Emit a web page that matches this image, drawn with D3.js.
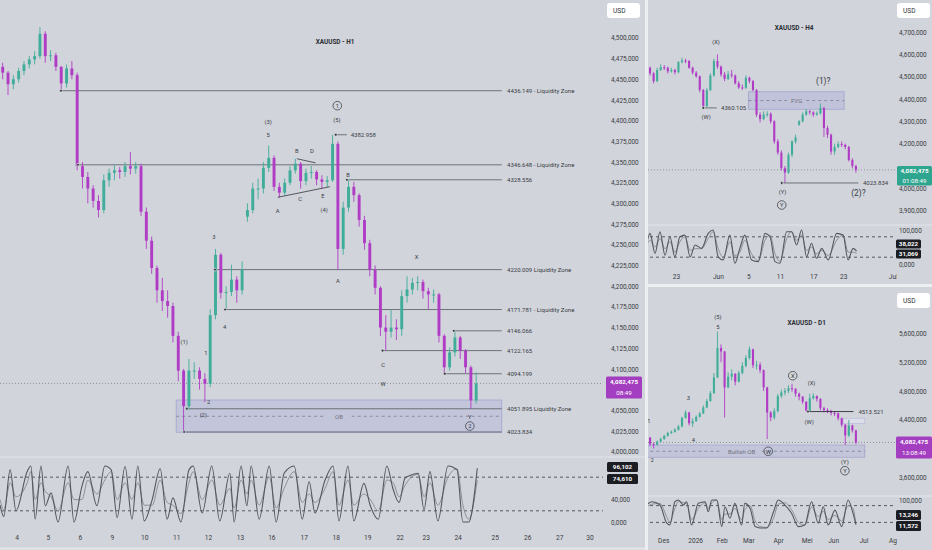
<!DOCTYPE html>
<html>
<head>
<meta charset="utf-8">
<script src="https://cdn.jsdelivr.net/npm/d3@7/dist/d3.min.js"></script>
<style>
  html, body { margin: 0; padding: 0; background: #d1d4da; }
  svg { display: block; }
  text { font-family: Roboto, "Liberation Sans", sans-serif; }
</style>
</head>
<body>
<svg id="chart" width="932" height="550"></svg>
<script>
// ---------- XAUUSD H1 (4h bars as drawn) ----------
var h1FirstOpen = 4465;
var h1Close = [4458,4444,4450,4460,4468,4474,4478,4505,4478,4479,4465,4445,4463,4455,4345,4332,4318,4303,4292,4328,
  4337,4340,4338,4345,4342,4345,4290,4255,4222,4195,4182,4176,4140,4098,4055,4098,4098,4088,4082,4165,
  4238,4192,4193,4208,4195,4220,4292,4318,4318,4343,4355,4320,4313,4325,4340,4348,4327,4337,4338,4329,
  4326,4328,4372,4245,4295,4320,4310,4280,4252,4220,4198,4150,4145,4150,4148,4188,4196,4204,4205,4194,
  4190,4190,4140,4102,4120,4138,4122,4102,4062,4082.475];
var h1High = [4470,4460,4455,4464,4472,4478,4484,4513,4508,4485,4482,4466,4468,4472,4458,4350,4338,4322,4310,4335,
  4342,4346,4344,4350,4362,4350,4348,4295,4260,4225,4210,4195,4180,4145,4100,4112,4108,4102,4095,4172,
  4245,4240,4200,4226,4212,4230,4300,4325,4330,4350,4370,4358,4325,4330,4345,4354,4350,4342,4345,4340,
  4334,4333,4382.958,4375,4302,4328.556,4326,4312,4285,4256,4225,4200,4165,4172,4160,4195,4212,4210,4212,4208,
  4198,4196,4192,4142,4126,4146.066,4140,4124,4104,4096];
var h1Low = [4450,4431,4438,4446,4455,4463,4468,4475,4470,4472,4460,4436.149,4440,4450,4340,4318,4300,4295,4283,4288,
  4320,4328,4330,4332,4335,4336,4285,4245,4215,4180,4170,4162,4132,4085,4023.834,4050,4088,4075,4060,4078,
  4160,4185,4172,4188,4180,4190,4278,4288,4305,4312,4338,4315,4307,4310,4322,4336,4318,4322,4330,4322,
  4318,4320,4326,4220,4238,4290,4302,4272,4244,4212,4190,4140,4122.165,4138,4135,4140,4180,4190,4195,4185,
  4172,4180,4132,4094.199,4098,4115,4112,4095,4052,4058];
var h1GapIdx = [46];
var h1GapOpen = [4284];
var h1Days = ['4','5','6','9','10','11','12','13','16','17','18','19','22','23','24','25','26','27','30'];
var h1DayAt = [2.6,8.5,14.5,20.5,26.6,32.6,38.6,44.6,50.5,56.6,62.6,68.5,74.6,79.5,85.5,92.5,98.6,104.6,110.3];
var h1PriceTicks = [4000,4025,4050,4100,4125,4150,4175,4200,4225,4250,4275,4300,4325,4350,4375,4400,4425,4450,4475,4500];
var h1OscT = [-0.5,0.2,1.4,2.5,4.6,5.3,6.1,7.2,8.0,9.1,10.4,12.3,13.4,14.9,16.0,17.7,19.2,20.4,21.5,23.0,
  24.3,25.4,26.6,28.1,29.6,30.9,32.0,33.5,35.0,35.8,37.5,39.3,40.8,42.7,43.5,44.8,45.9,46.7,48.2,50.1,
  51.4,52.9,54.8,56.3,57.6,58.7,60.6,62.1,63.2,64.9,66.0,67.9,69.1,70.6,72.2,73.4,74.5,75.6,76.8,78.1,
  79.2,80.3,81.8,83.7,85.4,86.5,87.6,89.2];
var h1OscK = [30,10,93,20,90,100,5,100,29,52,0,100,0,64,90,29,100,93,8,99,5,100,2,40,95,5,43,0,93,100,
  16,100,2,87,0,100,29,100,5,100,0,87,100,5,72,16,75,100,2,100,2,69,29,5,100,58,35,78,84,87,
  22,90,2,100,93,0,0,96.102];
var h1OscD = [40,22,70,45,70,90,40,70,55,45,20,70,40,40,75,50,75,90,40,70,40,70,30,30,75,35,30,15,70,90,
  40,75,30,60,25,75,50,75,30,80,25,60,90,35,50,35,60,90,30,75,30,50,40,20,75,70,45,65,80,85,
  45,70,30,80,95,30,5,74.61];

// ---------- XAUUSD H4 ----------
var h4FirstOpen = 4555;
var h4Close = [4540,4515,4480,4530,4542,4540,4524,4530,4520,4565,4572,4570,4540,4518,4502,4440,4368,4440,4505,4570,
  4545,4510,4490,4510,4505,4470,4452,4450,4495,4480,4440,4330,4310,4330,4333,4300,4210,4160,4090,4070,
  4150,4210,4228,4300,4330,4345,4340,4330,4336,4360,4270,4240,4165,4185,4198,4195,4185,4127,4100,4082.475];
var h4High = [4560,4545,4520,4540,4555,4552,4545,4540,4535,4570,4585,4580,4575,4545,4525,4505,4445,4450,4515,4580,
  4600,4550,4520,4525,4530,4510,4480,4465,4505,4500,4485,4445,4340,4345,4345,4340,4305,4220,4170,4100,
  4160,4215,4240,4305,4340,4355,4350,4345,4345,4380,4365,4280,4245,4200,4210,4210,4200,4190,4135,4105];
var h4Low = [4525,4505,4470,4475,4525,4530,4515,4518,4510,4515,4560,4560,4535,4510,4495,4430,4360.105,4365,4435,4500,
  4535,4500,4480,4485,4495,4465,4445,4440,4445,4470,4435,4320,4295,4305,4320,4290,4200,4150,4080,4023.834,
  4065,4140,4200,4280,4295,4325,4330,4320,4325,4330,4230,4225,4150,4150,4180,4185,4175,4120,4090,4070];
var h4GapIdx = [43];
var h4GapOpen = [4285];
var h4Dates = ['23','Jun','5','11','17','23','Jul'];
var h4DateAt = [8.3,20.1,28.7,37.6,47.0,55.4,69.4];
var h4PriceTicks = [3900,4000,4200,4300,4400,4500,4600,4700];
var h4OscT = [-0.4,1.0,2.4,3.8,5.2,6.6,8.0,9.4,10.8,12.3,13.7,15.5,17.4,18.8,20.2,21.6,23.5,24.9,26.3,27.7,
  29.6,31.5,33.4,34.8,36.2,37.6,39.5,40.9,42.3,43.7,45.1,46.5,47.9,49.4,51.2,53.6,55.4,56.8,58.2,59.2];
var h4OscK = [31,90,31,95,26,80,21,80,85,21,56,46,90,100,21,12,85,2,46,85,
  12,7,90,80,7,2,95,95,56,100,21,61,17,46,12,90,85,12,46,38.022];
var h4OscD = [40,70,50,75,45,65,35,65,80,40,45,45,75,95,45,20,65,25,35,70,
  30,10,70,85,30,8,75,95,70,85,40,50,30,40,25,70,85,35,35,31.069];

// ---------- XAUUSD D1 ----------
var d1FirstOpen = 4200;
var d1Close = [4150,4060,4050,4095,4130,4175,4215,4232,4260,4305,4425,4500,4350,4380,4440,4485,4570,4660,4770,4990,
  5400,5350,4850,5000,5040,4930,5050,5150,5260,5380,5160,5165,5090,4850,4500,4430,4520,4730,4780,4800,
  4840,4830,4760,4720,4650,4525,4700,4730,4690,4560,4535,4520,4495,4490,4420,4330,4180,4320,4250,4082.475];
var d1High = [4230,4160,4080,4110,4150,4190,4230,4250,4280,4330,4440,4530,4510,4420,4460,4510,4600,4690,4800,5050,
  5626,5450,5360,5060,5100,5050,5080,5200,5300,5420,5390,5220,5200,5100,4860,4520,4560,4760,4820,4840,
  4880,4900,4840,4780,4730,4660,4760,4768,4740,4700,4580,4560,4540,4520,4500,4430,4340,4396,4330,4260];
var d1Low = [4120,4030,4000,4040,4085,4120,4165,4200,4220,4250,4295,4415,4320,4300,4370,4430,4480,4560,4650,4760,
  4980,5200,4430,4840,4950,4880,4920,5030,5130,5240,5120,5100,5050,4800,4130,4380,4400,4500,4700,4740,
  4770,4790,4720,4670,4620,4513.521,4520,4680,4650,4530,4500,4490,4460,4450,4390,4300,4047,4160,4220,4060];
var d1Dates = ['Des','2026','Feb','Mar','Apr','Mei','Jun','Jul','Agu'];
var d1DateAt = [4.7,13.7,21.2,28.7,37.1,45.1,52.6,61.1,69.8];
var d1PriceTicks = [3600,4400,4800,5200,5600];
var d1OscT = [-0.4,1.5,3.8,5.7,6.6,8.0,9.0,10.4,11.3,12.7,14.6,16.5,17.4,18.4,19.8,21.2,22.1,23.5,24.9,26.8,
  27.7,29.2,30.6,32.0,33.9,35.8,37.1,39.0,40.9,42.8,44.6,46.5,48.4,49.8,51.2,53.1,55.0,56.8,58.2,59.0];
var d1OscK = [76,94,82,17,11,94,100,82,94,11,88,94,58,100,100,5,76,35,88,11,
  88,70,5,0,0,58,100,82,52,5,11,94,17,76,11,64,5,100,52,13.246];
var d1OscD = [70,85,88,40,20,70,95,90,88,30,70,90,70,90,100,30,50,50,70,30,
  65,80,25,5,2,35,85,90,65,20,10,75,40,60,30,45,25,80,70,11.572];

var lastPrice = 4082.475;

// ---------- look ----------
var UP = '#40ad9a';
var DOWN = '#b03cc6';
var TXT = '#383c45';
var LVL = '#62666f';
var AXT = '#3a3d44';
var fmt3 = function (v) { return d3.format(',.3f')(v).replace('.', ','); };

var svg = d3.select('#chart');
var defs = svg.append('defs');

function clip(id, x, y, w, h) {
    defs.append('clipPath').attr('id', id).append('rect')
        .attr('x', x).attr('y', y).attr('width', w).attr('height', h);
}

function opensOf(cl, first, gapIdx, gapOpen) {
    var op = [];
    for (var i = 0; i < cl.length; i++) op.push(i === 0 ? first : cl[i - 1]);
    for (var j = 0; j < gapIdx.length; j++) op[gapIdx[j]] = gapOpen[j];
    return op;
}

function drawCandles(g, x, y, op, cl, hi, lo, bw) {
    var idx = d3.range(cl.length);
    var col = function (i) { return cl[i] >= op[i] ? UP : DOWN; };
    g.selectAll('line.wick').data(idx).enter().append('line').attr('class', 'wick')
        .attr('x1', function (i) { return x(i); }).attr('x2', function (i) { return x(i); })
        .attr('y1', function (i) { return y(hi[i]); }).attr('y2', function (i) { return y(lo[i]); })
        .attr('stroke', col).attr('stroke-width', 0.9);
    g.selectAll('rect.body').data(idx).enter().append('rect').attr('class', 'body')
        .attr('x', function (i) { return x(i) - bw / 2; })
        .attr('y', function (i) { return y(Math.max(op[i], cl[i])); })
        .attr('width', bw)
        .attr('height', function (i) { return Math.max(1, Math.abs(y(op[i]) - y(cl[i]))); })
        .attr('fill', col);
}

function drawOsc(g, x, y, t, k, d) {
    [80, 20].forEach(function (v) {
        g.append('line').attr('x1', -10).attr('x2', 2000).attr('y1', y(v)).attr('y2', y(v))
            .attr('stroke', '#4a4d55').attr('stroke-dasharray', '3,3').attr('stroke-width', 0.9);
    });
    var line = function (vals) {
        return d3.line().x(function (v, i) { return x(t[i]); }).y(function (v) { return y(v); })
            .curve(d3.curveMonotoneX)(vals);
    };
    g.append('path').attr('d', line(d)).attr('fill', 'none').attr('stroke', '#8d9098').attr('stroke-width', 1);
    g.append('path').attr('d', line(k)).attr('fill', 'none').attr('stroke', '#54575f').attr('stroke-width', 1.1);
}

function priceAxis(g, y, ticks, left, fmt) {
    var ax = g.append('g').attr('transform', 'translate(' + left + ',0)')
        .call(d3.axisRight(y).tickValues(ticks).tickFormat(fmt).tickSize(0).tickPadding(0));
    ax.select('.domain').remove();
    ax.selectAll('text').attr('fill', AXT).style('font-size', '6.4px').attr('dy', '0.32em');
    return ax;
}

function dateAxis(g, x, at, labels, top) {
    var ax = g.append('g').attr('transform', 'translate(0,' + top + ')')
        .call(d3.axisBottom(x).tickValues(at).tickFormat(function (d, i) { return labels[i]; })
            .tickSize(0).tickPadding(0));
    ax.select('.domain').remove();
    ax.selectAll('text').attr('fill', AXT).style('font-size', '6.6px').attr('dy', '0.32em');
    return ax;
}

function writeText(g, x, y, text, size, color, anchor, weight) {
    return g.append('text').attr('x', x).attr('y', y).text(text)
        .attr('fill', color || TXT).attr('text-anchor', anchor || 'middle')
        .attr('dominant-baseline', 'central')
        .style('font-size', (size || 6) + 'px').style('font-weight', weight || 'normal');
}

function drawLine(g, x1, y1, x2, y2, stroke, w, dash) {
    var l = g.append('line').attr('x1', x1).attr('y1', y1).attr('x2', x2).attr('y2', y2)
        .attr('stroke', stroke).attr('stroke-width', w || 1);
    if (dash) l.attr('stroke-dasharray', dash);
    return l;
}

function dot(g, x, y) {
    g.append('circle').attr('cx', x).attr('cy', y).attr('r', 1.4)
        .attr('fill', '#2e3138').attr('stroke', '#f2f3f5').attr('stroke-width', 0.6);
}

function circled(g, x, y, text, r) {
    g.append('circle').attr('cx', x).attr('cy', y).attr('r', r || 4.3)
        .attr('fill', 'none').attr('stroke', '#40434b').attr('stroke-width', 0.8);
    writeText(g, x, y + 0.3, text, 5.8);
}

function badge(g, x, y, w, h, color, lines) {
    g.append('rect').attr('x', x).attr('y', y).attr('width', w).attr('height', h).attr('rx', 1.5).attr('fill', color);
    lines.forEach(function (s, i) {
        writeText(g, x + w / 2, y + h / (lines.length * 2) * (2 * i + 1), s, 6.2, '#ffffff', 'middle', i === 0 ? 'bold' : 'normal');
    });
}

function usdBox(g, x, y) {
    g.append('rect').attr('x', x).attr('y', y).attr('width', 33).attr('height', 15).attr('rx', 3).attr('fill', '#ffffff');
    writeText(g, x + 6, y + 7.5, 'USD', 6.6, '#30333a', 'start');
}

clip('cMain', 0, 0, 603, 457);
clip('cMainOsc', 0, 458, 603, 69);
clip('cH4', 648, 0, 248, 224);
clip('cH4Osc', 648, 226, 248, 43);
clip('cH4Date', 648, 270, 249, 14);
clip('cD1', 648, 288, 248, 207);
clip('cD1Osc', 648, 497, 248, 33);
clip('cD1Date', 648, 531, 249, 19);

// ================= MAIN (H1) =================
var xH1 = d3.scaleLinear().domain([0, 89]).range([2.7, 476.2]);
var yH1 = d3.scaleLinear().domain([4000, 4500]).range([451.7, 37.9]);
var oH1 = d3.scaleLinear().domain([0, 100]).range([522, 466]);

var gM = svg.append('g').attr('clip-path', 'url(#cMain)');
writeText(gM, 335, 42, 'XAUUSD - H1', 6.4, '#2a2d33', 'middle', 'bold');

// OB zone
var obTop = 4062.5, obBot = 4023.4, obMid = 4042.8, obFrom = 32.6, lvlEnd = 93.8, lvlText = 94.8;
gM.append('rect').attr('x', xH1(obFrom)).attr('y', yH1(obTop))
    .attr('width', xH1(lvlEnd) - xH1(obFrom)).attr('height', yH1(obBot) - yH1(obTop))
    .attr('fill', 'rgba(128,128,220,0.17)').attr('stroke', 'rgba(120,122,190,0.45)').attr('stroke-width', 0.8);
drawLine(gM, xH1(obFrom), yH1(obMid), xH1(60.8), yH1(obMid), '#7c7f8c', 0.8, '3,3');
drawLine(gM, xH1(65.6), yH1(obMid), xH1(lvlEnd), yH1(obMid), '#7c7f8c', 0.8, '3,3');
writeText(gM, xH1(63.2), yH1(obMid), 'OB', 6, '#6d707a');

// current price dotted line
drawLine(gM, 0, yH1(lastPrice), 603, yH1(lastPrice), '#80838b', 0.8, '1,2');

var h1Levels = [
    [4436.149, 10.96, '4436.149 - Liquidity Zone'],
    [4346.648, 14.15, '4346.648 - Liquidity Zone'],
    [4328.556, 64.7, '4328.556'],
    [4220.009, 39.9, '4220.009 Liquidity Zone'],
    [4171.781, 41.8, '4171.781 - Liquidity Zone'],
    [4146.066, 84.8, '4146.066'],
    [4122.165, 71.4, '4122.165'],
    [4094.199, 83.1, '4094.199'],
    [4051.895, 34.6, '4051.895 Liquidity Zone'],
    [4023.834, 34.1, '4023.834']
];
h1Levels.forEach(function (l) {
    drawLine(gM, xH1(l[1]), yH1(l[0]), xH1(lvlEnd), yH1(l[0]), LVL, 0.9);
    writeText(gM, xH1(lvlText), yH1(l[0]), l[2], 6, TXT, 'start');
});

var gC = gM.append('g');
drawCandles(gC, xH1, yH1, opensOf(h1Close, h1FirstOpen, h1GapIdx, h1GapOpen), h1Close, h1High, h1Low, 2.9);

// top 4382.958
drawLine(gM, xH1(62.6), yH1(4382.958), xH1(64.7), yH1(4382.958), LVL, 0.9);
writeText(gM, xH1(65.4), yH1(4382.958), '4382.958', 6, TXT, 'start');
h1Levels.forEach(function (l) { dot(gM, xH1(l[1]), yH1(l[0])); });
dot(gM, xH1(62.6), yH1(4382.958));

// contracting triangle
drawLine(gM, xH1(51.7), yH1(4307.4), xH1(61.5), yH1(4320.2), '#33363d', 0.8);
drawLine(gM, xH1(55.3), yH1(4354), xH1(58.8), yH1(4349), '#33363d', 0.8);

var h1Waves = [
    ['(3)', 49.9, 4398.8], ['5', 49.9, 4382.7], ['B', 55.3, 4363.4], ['D', 58.1, 4363.4],
    ['C', 55.9, 4305.7], ['E', 60.2, 4309], ['A', 51.7, 4291.2], ['(4)', 60.4, 4292],
    ['(5)', 62.8, 4400.5], ['B', 64.9, 4334.4], ['A', 63.0, 4206.6], ['X', 77.8, 4234.9],
    ['C', 71.5, 4104.8], ['W', 71.5, 4082.2], ['Y', 87.8, 4042.3], ['(1)', 34.1, 4132.2],
    ['3', 39.7, 4259.8], ['4', 41.7, 4150.7], ['1', 38.2, 4119.3], ['2', 38.7, 4060], ['(2)', 37.7, 4044.3]
];
h1Waves.forEach(function (w) { writeText(gM, xH1(w[1]), yH1(w[2]), w[0], 5.8); });
circled(gM, xH1(62.9), yH1(4418.1), '1');
circled(gM, xH1(87.8), yH1(4031), '2');

// main oscillator
var gMO = svg.append('g').attr('clip-path', 'url(#cMainOsc)');
drawOsc(gMO, xH1, oH1, h1OscT, h1OscK, h1OscD);

// axes
var gMA = svg.append('g');
priceAxis(gMA, yH1, h1PriceTicks, 611, fmt3);
priceAxis(gMA, oH1, [0, 40], 611, fmt3);
dateAxis(gMA, xH1, h1DayAt, h1Days, 538);
badge(gMA, 606, 376.5, 36, 22, '#a43ec0', [fmt3(lastPrice), '08:49']);
badge(gMA, 607, 462, 31, 10, '#1b1d22', [fmt3(96.102)]);
badge(gMA, 607, 474, 31, 10, '#1b1d22', [fmt3(74.61)]);
usdBox(gMA, 607, 3);

// ================= H4 =================
var xH4 = d3.scaleLinear().domain([0, 59]).range([646.5, 855.9]);
var yH4 = d3.scaleLinear().domain([4000, 4700]).range([188.3, 32]);
var oH4 = d3.scaleLinear().domain([0, 100]).range([264, 230]);

var g4 = svg.append('g').attr('clip-path', 'url(#cH4)');
writeText(g4, 794, 28, 'XAUUSD - H4', 6.4, '#2a2d33', 'middle', 'bold');
g4.append('rect').attr('x', xH4(28.7)).attr('y', yH4(4432.6))
    .attr('width', xH4(55.7) - xH4(28.7)).attr('height', yH4(4353.8) - yH4(4432.6))
    .attr('fill', 'rgba(128,128,220,0.2)').attr('stroke', 'rgba(120,122,190,0.45)').attr('stroke-width', 0.8);
drawLine(g4, xH4(28.7), yH4(4393), xH4(39.6), yH4(4393), '#7c7f8c', 0.8, '3,3');
drawLine(g4, xH4(45.0), yH4(4393), xH4(55.7), yH4(4393), '#7c7f8c', 0.8, '3,3');
writeText(g4, xH4(42.3), yH4(4393), 'FVG', 6, '#6d707a');
drawLine(g4, 645, yH4(lastPrice), 896, yH4(lastPrice), '#80838b', 0.8, '1,2');
drawCandles(g4.append('g'), xH4, yH4, opensOf(h4Close, h4FirstOpen, h4GapIdx, h4GapOpen), h4Close, h4High, h4Low, 2.1);
drawLine(g4, xH4(16.0), yH4(4360.105), xH4(19.8), yH4(4360.105), LVL, 0.9);
writeText(g4, xH4(21.0), yH4(4360.105), '4360.105', 6, TXT, 'start');
dot(g4, xH4(16.0), yH4(4360.105));
drawLine(g4, xH4(38.1), yH4(4023.834), xH4(59.7), yH4(4023.834), LVL, 0.9);
writeText(g4, xH4(61.0), yH4(4023.834), '4023.834', 6, TXT, 'start');
dot(g4, xH4(38.1), yH4(4023.834));
var h4Waves = [['(X)', 19.6, 4653.8, 5.8], ['(W)', 16.8, 4320.6, 5.8], ['(Y)', 38.3, 3984.8, 5.8],
    ['(1)?', 49.8, 4480.5, 8.4], ['(2)?', 59.7, 3980.3, 8.4]];
h4Waves.forEach(function (w) { writeText(g4, xH4(w[1]), yH4(w[2]), w[0], w[3]); });
circled(g4, xH4(38.1), yH4(3925.2), 'Y');

var g4O = svg.append('g').attr('clip-path', 'url(#cH4Osc)');
drawOsc(g4O, xH4, oH4, h4OscT, h4OscK, h4OscD);

var g4A = svg.append('g');
priceAxis(g4A, yH4, h4PriceTicks, 899, fmt3);
priceAxis(g4A, oH4, [0, 100], 899, fmt3);
dateAxis(g4A.append('g').attr('clip-path', 'url(#cH4Date)'), xH4, h4DateAt, h4Dates, 277);
badge(g4A, 897, 166, 35, 19.5, '#2ea58e', [fmt3(lastPrice), '01:08:49']);
badge(g4A, 896, 239.5, 25, 9, '#1b1d22', [fmt3(38.022)]);
badge(g4A, 896, 249.5, 25, 9, '#1b1d22', [fmt3(31.069)]);
usdBox(g4A, 897, 3);

// ================= D1 =================
var xD1 = d3.scaleLinear().domain([0, 59]).range([646.5, 855.9]);
var yD1 = d3.scaleLinear().domain([4400, 5600]).range([419.7, 333.6]);
var oD1 = d3.scaleLinear().domain([0, 100]).range([528, 500]);

var gD = svg.append('g').attr('clip-path', 'url(#cD1)');
writeText(gD, 806.7, 323.3, 'XAUUSD - D1', 6.4, '#2a2d33', 'middle', 'bold');
gD.append('rect').attr('x', xD1(-0.6)).attr('y', yD1(4047))
    .attr('width', xD1(61.5) - xD1(-0.6)).attr('height', yD1(3876) - yD1(4047))
    .attr('fill', 'rgba(128,128,220,0.17)').attr('stroke', 'rgba(120,122,190,0.45)').attr('stroke-width', 0.8);
drawLine(gD, xD1(-0.6), yD1(3960), xD1(21.0), yD1(3960), '#7c7f8c', 0.8, '3,3');
drawLine(gD, xD1(32.5), yD1(3960), xD1(61.5), yD1(3960), '#7c7f8c', 0.8, '3,3');
writeText(gD, xD1(26.8), yD1(3960), 'Bullish OB', 6, '#6d707a');
gD.append('rect').attr('x', xD1(55.4)).attr('y', yD1(4419))
    .attr('width', xD1(61.5) - xD1(55.4)).attr('height', yD1(4350) - yD1(4419))
    .attr('fill', 'rgba(225,226,240,0.7)').attr('stroke', 'rgba(150,152,200,0.5)').attr('stroke-width', 0.6);
drawLine(gD, 645, yD1(lastPrice), 896, yD1(lastPrice), '#80838b', 0.8, '1,2');
drawCandles(gD.append('g'), xD1, yD1, opensOf(d1Close, d1FirstOpen, [], []), d1Close, d1High, d1Low, 2.1);
drawLine(gD, xD1(45.5), yD1(4513.521), xD1(58.3), yD1(4513.521), '#2e3138', 0.9);
writeText(gD, xD1(59.7), yD1(4513.521), '4513.521', 6, TXT, 'start');
dot(gD, xD1(45.5), yD1(4513.521));
var d1Waves = [['(5)', 20.1, 5827], ['5', 20.1, 5696], ['3', 11.8, 4698], ['4', 13.2, 4117], ['1', 0.7, 4382],
    ['2', 1.6, 3838], ['(X)', 46.5, 4907], ['(W)', 45.8, 4372], ['(Y)', 55.9, 3815]];
d1Waves.forEach(function (w) { writeText(gD, xD1(w[1]), yD1(w[2]), w[0], 5.8); });
circled(gD, xD1(41.2), yD1(5013), 'X');
circled(gD, xD1(34.3), yD1(3960), 'W');
circled(gD, xD1(55.9), yD1(3689), 'Y');

var gDO = svg.append('g').attr('clip-path', 'url(#cD1Osc)');
drawOsc(gDO, xD1, oD1, d1OscT, d1OscK, d1OscD);

var gDA = svg.append('g');
priceAxis(gDA, yD1, d1PriceTicks, 899, fmt3);
priceAxis(gDA, oD1, [100], 899, fmt3);
dateAxis(gDA.append('g').attr('clip-path', 'url(#cD1Date)'), xD1, d1DateAt, d1Dates, 541);
badge(gDA, 896, 436.5, 36, 22, '#a43ec0', [fmt3(lastPrice), '13:08:49']);
badge(gDA, 896, 510, 25, 10, '#1b1d22', [fmt3(13.246)]);
badge(gDA, 896, 521, 25, 10, '#1b1d22', [fmt3(11.572)]);
usdBox(gDA, 897, 293);

// ---------- separators ----------
drawLine(svg, 0, 457, 645, 457, '#e3e5ea', 1);
drawLine(svg, 0, 548.5, 645, 548.5, '#e3e5ea', 2);
drawLine(svg, 648, 225, 932, 225, '#e3e5ea', 1);
drawLine(svg, 648, 496, 932, 496, '#e3e5ea', 1);
drawLine(svg, 646.5, 0, 646.5, 550, '#eceef2', 3);
drawLine(svg, 648, 285.5, 932, 285.5, '#eceef2', 3);
</script>
</body>
</html>
